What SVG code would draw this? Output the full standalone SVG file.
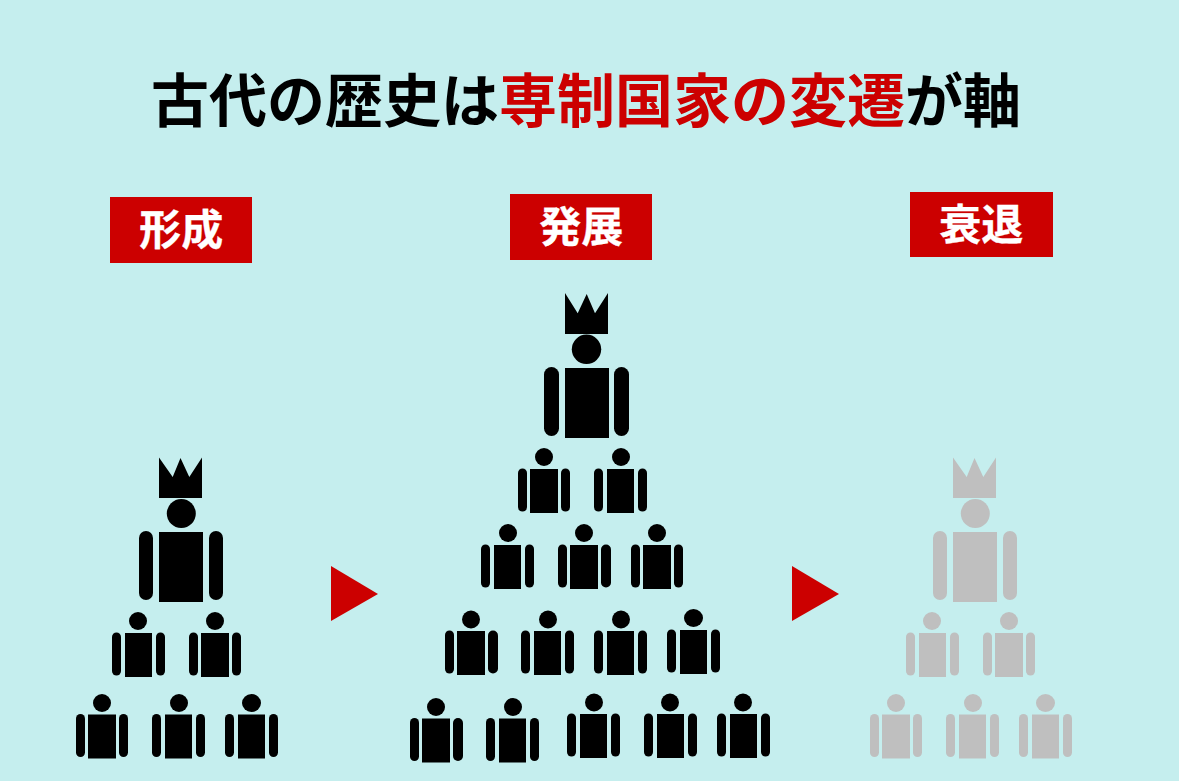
<svg xmlns="http://www.w3.org/2000/svg" width="1179" height="781" viewBox="0 0 1179 781">
<style>
.t{font-family:"Noto Sans CJK JP","Noto Sans CJK SC",sans-serif;font-weight:700}
.title{font-size:58px;text-anchor:middle;fill:#000}
.red{fill:#CC0000}
.lab{font-size:42px;fill:#fff;text-anchor:middle;stroke:#fff;stroke-width:.3px}
.k{fill:#000}.g{fill:#BFBFBF}
</style>
<defs>
<g id="w28"><rect width="28" height="44"/><rect x="-12" y="-.5" width="9" height="43" rx="4.5"/><rect x="31" y="-.5" width="9" height="43" rx="4.5"/></g>
<g id="w28a"><rect width="28" height="44"/><rect x="-12" y="-.5" width="9" height="43" rx="4.5"/><rect x="31" y="-.5" width="10" height="43" rx="5"/></g>
<g id="w27"><rect width="27" height="44"/><rect x="-13" y="-.5" width="9" height="43" rx="4.5"/><rect x="31" y="-.5" width="9" height="43" rx="4.5"/></g>
<g id="king">
<path d="M159 457.5L172.7 477L180.5 458L189.3 477L202 457.5V498H159Z"/>
<circle cx="181.3" cy="513.5" r="14.5"/>
<rect x="159" y="532" width="44" height="70"/>
<rect x="139" y="531" width="14" height="69" rx="7"/>
<rect x="209" y="531" width="14" height="69" rx="7"/>
</g>
</defs>
<rect id="background" width="1179" height="781" fill="#C5EEEE"/>
<text id="title" class="t title" x="586" y="122">古代の歴史は<tspan class="red">専制国家の変遷</tspan>が軸</text>
<g id="label-formation"><rect class="red" x="110" y="197" width="142" height="66"/><text class="t lab" x="181.3" y="244.5">形成</text></g>
<g id="label-growth"><rect class="red" x="510" y="194" width="142" height="66"/><text class="t lab" x="581.3" y="241.5">発展</text></g>
<g id="label-decline"><rect class="red" x="910" y="192" width="143" height="65"/><text class="t lab" x="981.3" y="239.5">衰退</text></g>
<g id="connectors">
<polygon class="red" points="331,566 378,594 331,621"/>
<polygon class="red" points="792,566 839,594 792,621"/>
</g>
<g id="pyramid-formation" class="k">
<g id="f-king"><use href="#king"/></g>
<g id="f1"><circle cx="138" cy="621" r="9"/><use href="#w27" x="125" y="633"/></g>
<g id="f2"><circle cx="215" cy="621" r="9"/><use href="#w28" x="201" y="633"/></g>
<g id="f3"><circle cx="102" cy="703" r="9"/><use href="#w28" x="88" y="714.5"/></g>
<g id="f4"><circle cx="179" cy="703" r="9"/><use href="#w27" x="165" y="714.5"/></g>
<g id="f5"><ellipse cx="251.5" cy="703" rx="9.5" ry="9"/><use href="#w27" x="238" y="714.5"/></g>
</g>
<g id="pyramid-growth" class="k">
<g id="g-king">
<path d="M565 293L577.7 313.3L586.7 294L595 313.3L608 293V334H565Z"/>
<circle cx="586.5" cy="349.3" r="14.7"/>
<rect x="565" y="368" width="44" height="70"/>
<rect x="544" y="367" width="15" height="69" rx="7.5"/>
<rect x="614" y="367" width="15" height="69" rx="7.5"/>
</g>
<g id="g1"><circle cx="544" cy="457" r="9"/><use href="#w28" x="530" y="469"/></g>
<g id="g2"><circle cx="621" cy="457" r="9"/><use href="#w27" x="607" y="469"/></g>
<g id="g3"><circle cx="508" cy="533" r="9"/><use href="#w27" x="494" y="545"/></g>
<g id="g4"><circle cx="584" cy="533" r="9"/><use href="#w28a" x="570" y="545"/></g>
<g id="g5"><circle cx="657" cy="533" r="9"/><use href="#w28" x="643" y="545"/></g>
<g id="g6"><circle cx="471" cy="619.5" r="9"/><use href="#w28a" x="457" y="631"/></g>
<g id="g7"><circle cx="548" cy="619.5" r="9"/><use href="#w27" x="534" y="631"/></g>
<g id="g8"><circle cx="621" cy="619.5" r="9"/><use href="#w27" x="607" y="631"/></g>
<g id="g9"><ellipse cx="693.5" cy="618" rx="9.5" ry="9"/><use href="#w27" x="680" y="630"/></g>
<g id="g10"><circle cx="436" cy="707" r="9"/><use href="#w28a" x="422" y="718.5"/></g>
<g id="g11"><circle cx="513" cy="707" r="9"/><use href="#w27" x="499" y="718.5"/></g>
<g id="g12"><circle cx="594" cy="702.5" r="9"/><use href="#w27" x="580" y="714"/></g>
<g id="g13"><circle cx="670" cy="702.5" r="9"/><use href="#w27" x="657" y="714"/></g>
<g id="g14"><circle cx="743" cy="702.5" r="9"/><use href="#w27" x="730" y="714"/></g>
</g>
<g id="pyramid-decline" class="g">
<g id="d-king"><use href="#king" x="794"/></g>
<g id="d1"><circle cx="932" cy="621" r="9"/><use href="#w27" x="919" y="633"/></g>
<g id="d2"><circle cx="1009" cy="621" r="9"/><use href="#w28" x="995" y="633"/></g>
<g id="d3"><circle cx="896" cy="703" r="9"/><use href="#w28" x="882" y="714.5"/></g>
<g id="d4"><circle cx="973" cy="703" r="9"/><use href="#w27" x="959" y="714.5"/></g>
<g id="d5"><ellipse cx="1045.5" cy="703" rx="9.5" ry="9"/><use href="#w27" x="1032" y="714.5"/></g>
</g>
</svg>
